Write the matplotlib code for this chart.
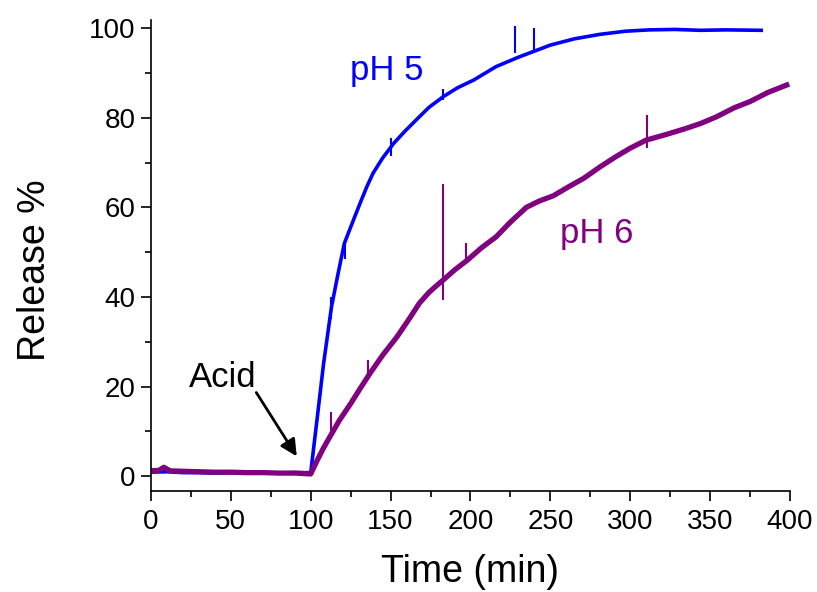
# Release profile of the particles after adding acid at t = 100 min
import numpy as np
import matplotlib
matplotlib.use("Agg")
import matplotlib.pyplot as plt
from matplotlib.ticker import MultipleLocator

plt.rcParams['font.family'] = ['Liberation Sans', 'DejaVu Sans']

# pH 5 (blue)
time_ph5 = [0, 10, 20, 30, 40, 50, 60, 70, 80, 90, 100, 104, 108, 113, 117,
            121, 126, 131, 135, 139, 145, 152, 159, 166, 174, 183, 192, 202,
            216, 230, 250, 265, 281, 297, 312, 328, 344, 360, 382]
release_ph5 = [0.9, 1.0, 0.8, 0.8, 0.7, 0.8, 0.7, 0.8, 0.7, 0.8, 0.8, 12.8,
               25.0, 37.8, 45.0, 51.9, 56.5, 61.0, 64.5, 67.6, 71.0, 74.3,
               77.0, 79.5, 82.3, 84.7, 86.7, 88.4, 91.4, 93.5, 96.2, 97.6,
               98.6, 99.3, 99.6, 99.7, 99.5, 99.6, 99.5]

# pH 6 (purple)
time_ph6 = [0, 5, 8, 12, 20, 30, 40, 50, 60, 70, 80, 90, 100, 104, 108, 112,
            118, 125, 131, 137, 145, 154, 162, 168, 174, 179, 183, 190, 198,
            207, 216, 225, 235, 243, 252, 261, 271, 281, 291, 300, 310, 322,
            334, 344, 354, 365, 375, 386, 398]
release_ph6 = [1.2, 1.3, 2.0, 1.2, 1.1, 1.0, 0.9, 0.9, 0.8, 0.8, 0.7, 0.7,
               0.5, 3.5, 6.3, 8.8, 12.5, 16.2, 19.6, 22.9, 27.0, 31.1, 35.3,
               38.6, 41.0, 42.6, 43.8, 46.0, 48.2, 51.0, 53.4, 56.7, 60.0,
               61.4, 62.6, 64.5, 66.5, 69.0, 71.3, 73.2, 75.0, 76.2, 77.5,
               78.7, 80.2, 82.2, 83.6, 85.6, 87.3]

# Glitches in the recording (time, low, high)
spike_t_ph5 = [113, 121.5, 150.5, 183, 228, 240]
spike_lo_ph5 = [35.0, 48.5, 71.5, 84.0, 94.5, 95.0]
spike_hi_ph5 = [40.0, 53.0, 75.5, 86.5, 100.5, 100.0]

spike_t_ph6 = [113, 136, 182.7, 196.9, 310.3]
spike_lo_ph6 = [8.5, 22.0, 39.3, 47.5, 73.2]
spike_hi_ph6 = [14.4, 26.0, 65.2, 52.0, 80.6]

blue = "#0000ff"
purple = "#800080"

# Plot ........................................................................
fig = plt.figure(figsize=(8.17, 5.92), dpi=100)
ax = fig.add_axes([0.1848, 0.1706, 0.7821, 0.7956])

ax.plot(time_ph5, release_ph5, color=blue, lw=2.6)
ax.vlines(spike_t_ph5, spike_lo_ph5, spike_hi_ph5, color=blue, lw=1.5)
ax.plot(time_ph6, release_ph6, color=purple, lw=3.8)
ax.vlines(spike_t_ph6, spike_lo_ph6, spike_hi_ph6, color=purple, lw=1.5)

ax.text(124.6, 88.4, "pH 5", color=blue, fontsize=25)
ax.text(256, 52, "pH 6", color=purple, fontsize=25)
ax.text(23.8, 19.9, "Acid", color="black", fontsize=25)
ax.annotate("", xy=(92.2, 3.9), xytext=(65, 19.2),
            arrowprops=dict(arrowstyle="-|>", color="black", lw=2,
                            mutation_scale=25))

ax.set_xlim(0, 400)
ax.set_ylim(-3.3, 101.8)
ax.xaxis.set_major_locator(MultipleLocator(50))
ax.xaxis.set_minor_locator(MultipleLocator(25))
ax.yaxis.set_major_locator(MultipleLocator(20))
ax.yaxis.set_minor_locator(MultipleLocator(10))
ax.set_yticks([0, 20, 40, 60, 80, 100])

for side in ["top", "right"]:
    ax.spines[side].set_visible(False)
for side in ["left", "bottom"]:
    ax.spines[side].set_linewidth(1.2)

ax.tick_params(which="major", direction="out", length=7, width=1.2,
               labelsize=20)
ax.tick_params(which="minor", direction="out", length=4, width=1.2)
ax.tick_params(axis="y", pad=4)
ax.tick_params(axis="x", pad=6)

ax.set_xlabel("Time (min)", fontsize=27, va="center")
ax.xaxis.set_label_coords(0.5, -0.172)
ax.set_ylabel("Release %", fontsize=27, va="center")
ax.yaxis.set_label_coords(-0.182, 0.469)

plt.savefig("out.png", dpi=100)
